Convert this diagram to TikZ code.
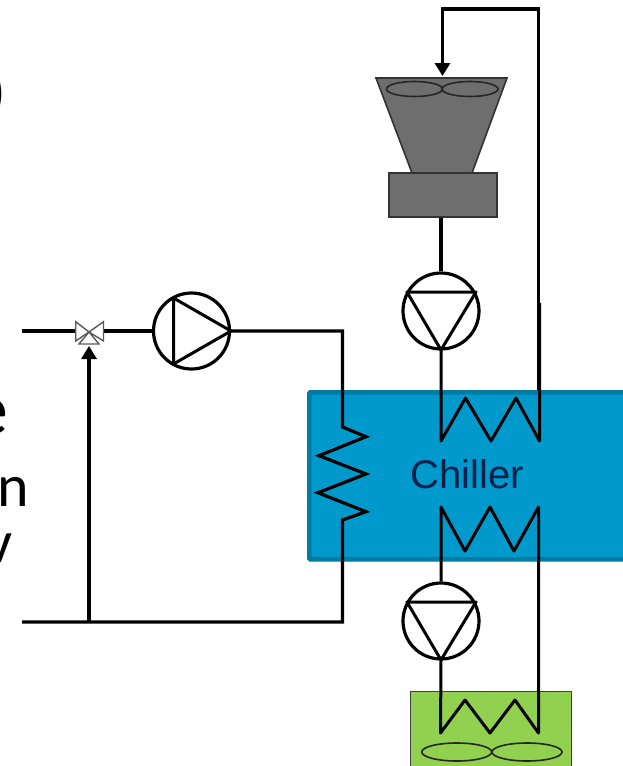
\documentclass[tikz,border=0pt]{standalone}
\usepackage{fontspec}
\setmainfont{Liberation Sans}
\newfontfamily\leftfont{Carlito}
\usetikzlibrary{arrows.meta}
\definecolor{chillerblue}{HTML}{0099CC}
\definecolor{chillerline}{HTML}{007CA3}
\definecolor{towergray}{HTML}{6E6E6E}
\definecolor{coilgreen}{HTML}{92D050}
\definecolor{chillertext}{HTML}{03204A}
\tikzset{
  pipe/.style={draw=black,line width=3.2pt,line join=miter},
  thinpipe/.style={draw=black,line width=3pt,line join=round},
  pumpcircle/.style={circle,draw=black,line width=3.2pt,fill=white,minimum size=76pt,inner sep=0pt},
  towerpart/.style={draw=black!80,line width=1.6pt,fill=towergray},
  fanblade/.style={draw=black!85,line width=1.6pt},
  cuttext/.style={inner sep=0pt,anchor=base west,text=black},
  flowtip/.style={-{Triangle[length=13pt,width=15pt]}}
}
\begin{document}
\begin{tikzpicture}[x=1pt,y=-1pt]
\useasboundingbox (0,0) rectangle (623,766);
\clip (0,0) rectangle (623,766);
\fill[white] (0,0) rectangle (623,766);
% cut-off text at the left edge
\node[cuttext,font=\leftfont\fontsize{62}{62}\selectfont] at (-13,112) {)};
\node[cuttext,font=\leftfont\fontsize{74}{74}\selectfont] at (-29,434) {e};
\node[cuttext,font=\leftfont\fontsize{60}{60}\selectfont] at (-3,506) {n};
\node[cuttext,font=\leftfont\fontsize{60}{60}\selectfont] at (-15,562) {v};
% chiller body
\node[draw=chillerline,fill=chillerblue,line width=4.5pt,minimum width=340pt,minimum height=167pt,anchor=north west,inner sep=0pt,rounded corners=1pt] (chiller) at (307,390) {};
\node[font=\fontsize{40}{40}\selectfont,text=chillertext,inner sep=0pt] (label) at (467,474) {Chiller};
% green coil box
\node[draw=black!75,fill=coilgreen,line width=1.5pt,minimum width=161pt,minimum height=120pt,anchor=north west,inner sep=0pt] (drybox) at (409.5,690.5) {};
\draw[fanblade] (456.7,752) ellipse [x radius=35,y radius=9];
\draw[fanblade] (527,752) ellipse [x radius=35,y radius=9];
% cooling tower
\coordinate (tl) at (376,78);
\coordinate (tr) at (507,78);
\coordinate (bl) at (412,173);
\coordinate (br) at (472,173);
\draw[towerpart] (tl) -- (tr) -- (br) -- (bl) -- cycle;
\node[towerpart,minimum width=108pt,minimum height=44pt,inner sep=0pt,anchor=north west] (basin) at (388.2,172.2) {};
\draw[fanblade] (414.5,89) ellipse [x radius=28,y radius=7.5];
\draw[fanblade] (470,89) ellipse [x radius=28,y radius=7.5];
% pumps
\node[pumpcircle] (pumpA) at (441,311) {};
\node[pumpcircle] (pumpB) at (441,621) {};
\node[pumpcircle] (pumpC) at (191.5,331) {};
\draw[thinpipe] (407,292) -- (476,292) -- (441,350) -- cycle;
\draw[thinpipe] (407,602) -- (476,602) -- (441,660) -- cycle;
\draw[thinpipe] (173.5,298) -- (231,331) -- (173.5,364) -- cycle;
% tower loop
\coordinate (loopR) at (538.5,390);
\coordinate (loopTR) at (538.5,9);
\coordinate (loopTL) at (442.5,9);
\draw[pipe,flowtip] (loopR) -- (loopTR) -- (loopTL) -- (442.5,76);
\draw[pipe] (basin.south -| pumpA) -- (pumpA.north);
% upper coil
\draw[thinpipe] (pumpA.south) -- (441,441) -- (465.5,398) -- (491,441) -- (516,398) -- (539.5,441) -- (539.5,303);
% lower coil
\draw[thinpipe] (pumpB.north) -- (441,507) -- (465,551) -- (490,507) -- (514,551) -- (538.5,507) -- (538.5,733) -- (515,700) -- (490,733) -- (465,700) -- (440.5,733) -- (pumpB.south);
% process loop
\coordinate (leftTop) at (22,331);
\coordinate (leftBot) at (22,622);
\coordinate (cornerT) at (342.5,331);
\coordinate (cornerB) at (342.5,622);
\coordinate (teeB) at (89,622);
\draw[pipe] (pumpC.east) -- (cornerT) -- (342.5,424) -- (342.5,427) -- (366,436.7) -- (319,455.7) -- (366,474) -- (318,492.7) -- (366,511.7) -- (342.5,520) -- (cornerB) -- (leftBot);
% valve
\coordinate (valveC) at (89,332);
\draw[pipe] (leftTop) -- (75.7,331);
\draw[pipe] (103.5,331) -- (pumpC.west);
\draw[draw=black!65,fill=white,line width=1.4pt] (75.7,321.7) -- (valveC) -- (75.7,341) -- cycle;
\draw[draw=black!65,fill=white,line width=1.4pt] (103.5,321.7) -- (valveC) -- (103.5,341) -- cycle;
\draw[draw=black!65,fill=white,line width=1.4pt] (valveC) -- (79,344) -- (99,344) -- cycle;
\draw[pipe,flowtip] (teeB) -- (89,346);
\end{tikzpicture}
\end{document}
